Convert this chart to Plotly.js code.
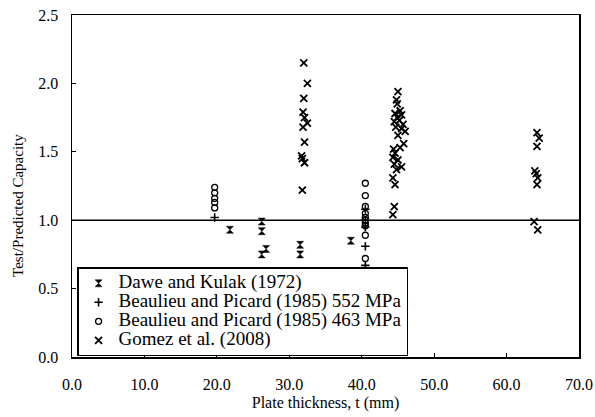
<!DOCTYPE html>
<html>
<head>
<meta charset="utf-8">
<script src="https://cdn.plot.ly/plotly-3.0.1.min.js"></script>
<style>html,body{margin:0;padding:0;background:#fff;}#chart{width:595px;height:417px;}</style>
</head>
<body>
<div id="chart"></div>
<script>
// Dawe and Kulak (1972)
var daweX = [21.8, 26.2, 26.2, 26.8, 26.2, 31.5, 31.5, 38.5];
var daweY = [0.93, 0.99, 0.92, 0.79, 0.75, 0.82, 0.75, 0.85];

// Beaulieu and Picard (1985) 552 MPa
var bp552X = [19.7, 40.5, 40.5, 40.5, 40.5, 40.5];
var bp552Y = [1.02, 1.08, 1.00, 0.95, 0.81, 0.67];

// Beaulieu and Picard (1985) 463 MPa
var bp463X = [19.7, 19.7, 19.7, 19.7, 19.7, 40.5, 40.5, 40.5, 40.5, 40.5, 40.5, 40.5, 40.5, 40.5, 40.5];
var bp463Y = [1.24, 1.20, 1.16, 1.13, 1.09, 1.27, 1.18, 1.10, 1.05, 1.02, 1.00, 0.98, 0.96, 0.89, 0.72];

// Gomez et al. (2008)
var gomezX = [32.0, 32.5, 32.0, 31.9, 32.1, 32.5, 31.9, 32.1, 31.7, 31.8, 32.1, 31.8,
              45.0, 44.8, 44.9, 45.3, 44.6, 45.5, 44.9, 45.2, 44.5, 45.7, 44.7, 45.5, 46.0, 45.0,
              45.8, 44.4, 45.3, 44.6, 44.3, 45.0, 44.5, 45.5, 44.8, 44.3, 44.6, 44.5, 44.3,
              64.2, 64.5, 64.2, 63.9, 64.1, 64.3, 64.2, 63.8, 64.3];
var gomezY = [2.15, 2.00, 1.89, 1.79, 1.75, 1.71, 1.68, 1.57, 1.47, 1.45, 1.42, 1.22,
              1.94, 1.88, 1.85, 1.80, 1.78, 1.77, 1.75, 1.73, 1.72, 1.70, 1.68, 1.67, 1.65, 1.62,
              1.56, 1.52, 1.53, 1.49, 1.46, 1.44, 1.41, 1.39, 1.37, 1.31, 1.26, 1.10, 1.04,
              1.64, 1.60, 1.54, 1.36, 1.34, 1.31, 1.26, 0.99, 0.93];

var refLineY = 1.0;
var xTicks = [0, 10, 20, 30, 40, 50, 60, 70];
var yTicks = [0, 0.5, 1.0, 1.5, 2.0, 2.5];

var names = ['Dawe and Kulak (1972)', 'Beaulieu and Picard (1985) 552 MPa',
             'Beaulieu and Picard (1985) 463 MPa', 'Gomez et al. (2008)'];

function nm(s) { return '<span style="font-size:19px">' + s + '</span>'; }

var serif = 'Liberation Serif, Times New Roman, serif';

var traces = [
  {x: daweX, y: daweY, name: nm(names[0]), type: 'scatter', mode: 'markers',
   marker: {symbol: 'hourglass', size: 7, color: '#000', line: {width: 0.5, color: '#000'}}},
  {x: bp552X, y: bp552Y, name: nm(names[1]), type: 'scatter', mode: 'markers',
   marker: {symbol: 'cross-thin-open', size: 6, color: '#000', line: {width: 1.6, color: '#000'}}},
  {x: bp463X, y: bp463Y, name: nm(names[2]), type: 'scatter', mode: 'markers',
   marker: {symbol: 'circle-open', size: 6, color: '#000', line: {width: 1.3, color: '#000'}}},
  {x: gomezX, y: gomezY, name: nm(names[3]), type: 'scatter', mode: 'markers',
   marker: {symbol: 'x-thin-open', size: 7, color: '#000', line: {width: 1.8, color: '#000'}}}
];

var axisCommon = {
  showgrid: false, zeroline: false, showline: true, mirror: true,
  linecolor: '#000', linewidth: 1.5, ticks: 'inside', ticklen: 4, tickwidth: 1.2,
  tickcolor: '#000', tickformat: '.1f',
  tickfont: {family: serif, size: 16, color: '#000'}
};

var layout = {
  width: 595, height: 417,
  margin: {l: 72, r: 16, t: 15, b: 60},
  paper_bgcolor: '#fff', plot_bgcolor: '#fff',
  font: {family: serif, color: '#000'},
  xaxis: Object.assign({}, axisCommon, {
    range: [0, 70], tickvals: xTicks, ticklabelstandoff: 12,
    title: {text: 'Plate thickness, t (mm)', font: {family: serif, size: 16, color: '#000'}, standoff: 5}
  }),
  yaxis: Object.assign({}, axisCommon, {
    range: [0, 2.5], tickvals: yTicks, ticklabelstandoff: 9
  }),
  annotations: [{
    text: 'Test/Predicted Capacity', textangle: -90, xref: 'paper', yref: 'paper',
    x: -0.107, y: 0.444, xanchor: 'center', yanchor: 'middle', showarrow: false,
    font: {family: serif, size: 15, color: '#000'}
  }],
  shapes: [{type: 'line', xref: 'paper', x0: 0, x1: 1, yref: 'y', y0: refLineY, y1: refLineY,
            line: {color: '#000', width: 1.4}, layer: 'below'}],
  showlegend: true,
  legend: {x: 0.01, y: 0.002, xanchor: 'left', yanchor: 'bottom',
           bgcolor: '#fff', bordercolor: '#000', borderwidth: 1.5,
           font: {family: serif, size: 12, color: '#000'}, itemwidth: 30, tracegroupgap: 0}
};

Plotly.newPlot('chart', traces, layout, {staticPlot: true, displayModeBar: false});
</script>
</body>
</html>
